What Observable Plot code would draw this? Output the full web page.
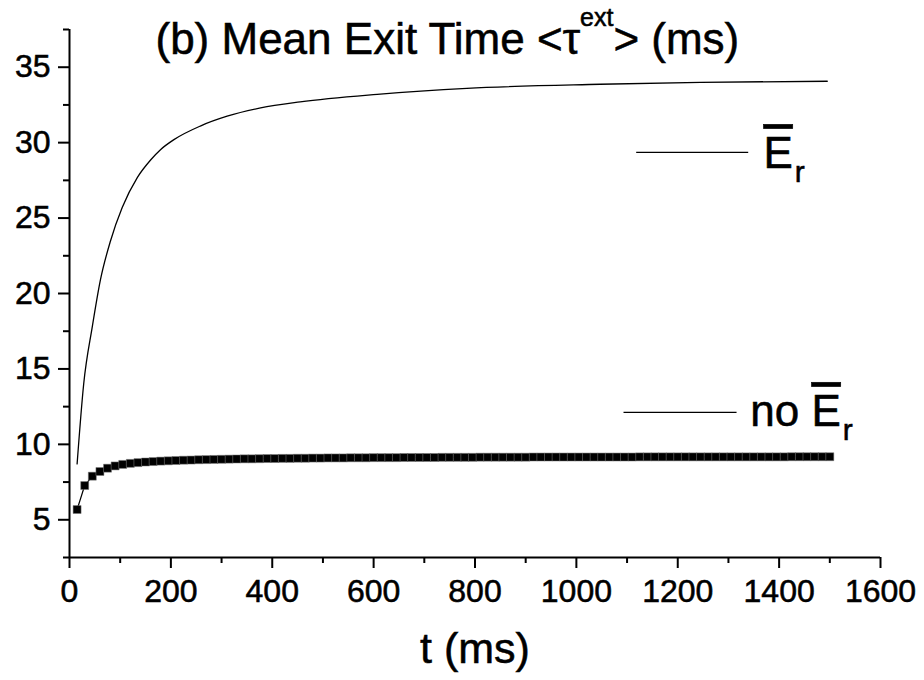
<!DOCTYPE html>
<html><head><meta charset="utf-8">
<script src="https://cdn.jsdelivr.net/npm/d3@7"></script>
<script src="https://cdn.jsdelivr.net/npm/@observablehq/plot@0.6"></script>
<style>
body{margin:0;background:#fff;}
#chart svg{display:block;}
#chart svg text{stroke:#000;stroke-width:0.55px;}
</style>
</head><body><div id="chart"></div>
<script>
// ---- data ----
const erT = [15, 28, 45, 61, 81, 104, 134, 160, 180, 206, 258, 311, 377, 455, 607, 784, 1047, 1245, 1495];
const erV = [8.7, 14.0, 17.8, 20.9, 23.5, 25.7, 27.7, 28.85, 29.55, 30.2, 31.1, 31.75, 32.3, 32.7, 33.2, 33.6, 33.87, 34.0, 34.07];

const noErT = [15,30,45,60,75,90,105,120,135,150,165,180,195,210,225,240,255,270,285,300,
  315,330,345,360,375,390,405,420,435,450,465,480,495,510,525,540,555,570,585,600,
  615,630,645,660,675,690,705,720,735,750,765,780,795,810,825,840,855,870,885,900,
  915,930,945,960,975,990,1005,1020,1035,1050,1065,1080,1095,1110,1125,1140,1155,1170,1185,1200,
  1215,1230,1245,1260,1275,1290,1305,1320,1335,1350,1365,1380,1395,1410,1425,1440,1455,1470,1485,1500];
const noErV = [5.68,7.27,7.89,8.20,8.42,8.57,8.67,8.74,8.79,8.83,8.86,8.89,8.91,8.93,8.95,8.96,8.98,8.99,9.00,9.01,
  9.02,9.03,9.04,9.04,9.05,9.06,9.06,9.07,9.07,9.08,9.08,9.09,9.09,9.10,9.10,9.10,9.11,9.11,9.11,9.12,
  9.12,9.12,9.12,9.13,9.13,9.13,9.13,9.13,9.14,9.14,9.14,9.14,9.14,9.15,9.15,9.15,9.15,9.15,9.15,9.15,
  9.16,9.16,9.16,9.16,9.16,9.16,9.16,9.16,9.16,9.16,9.16,9.16,9.16,9.16,9.17,9.17,9.17,9.17,9.17,9.17,
  9.17,9.17,9.17,9.17,9.17,9.17,9.17,9.17,9.17,9.17,9.17,9.17,9.17,9.17,9.18,9.18,9.18,9.18,9.18,9.18];

const xTicks = [0,200,400,600,800,1000,1200,1400,1600];
const xMinorTicks = [100,300,500,700,900,1100,1300,1500];
const yTicks = [5,10,15,20,25,30,35];
const yMinorTicks = [2.5,7.5,12.5,17.5,22.5,27.5,32.5,37.5];

const titleMain = "(b) Mean Exit Time <τ";
const titleSup = "ext";
const titleEnd = "> (ms)";
const xLabel = "t (ms)";

// legend entries
const legendPrefix = ["", "no "];
const legendSymbol = "E";
const legendSub = "r";
const legendLineX1 = [1118, 1093];
const legendLineX2 = [1339, 1316];
const legendLineY = [29.36, 12.12];
const legendTextX = [1369, 1343];
const legendTextY = [28.3, 11.2];

// ---- build tables ----
const erData = erT.map((t,i)=>({t, v: erV[i]}));
const noErData = noErT.map((t,i)=>({t, v: noErV[i]}));
const legendData = legendPrefix.map((p,i)=>({
  prefix: p, label: p + legendSymbol, x1: legendLineX1[i], x2: legendLineX2[i], y: legendLineY[i],
  tx: legendTextX[i], ty: legendTextY[i]
}));

const FONT = "'Liberation Sans', Arial, Helvetica, sans-serif";

const plot = Plot.plot({
  width: 924,
  height: 680,
  marginLeft: 69,
  marginRight: 44,
  marginTop: 29,
  marginBottom: 123,
  style: {fontFamily: FONT, fontSize: "32px", color: "#000", background: "#fff", overflow: "visible"},
  x: {domain: [0, 1600]},
  y: {domain: [2.5, 37.5]},
  marks: [
    // axes
    Plot.axisX({ticks: xTicks, tickSize: 11, tickPadding: 11, strokeWidth: 2, tickFormat: d => String(d), label: null}),
    Plot.axisX({ticks: xMinorTicks, tickSize: 6, strokeWidth: 2, text: null, label: null}),
    Plot.axisY({ticks: yTicks, tickSize: 11, tickPadding: 8, strokeWidth: 2, tickFormat: d => String(d), label: null}),
    Plot.axisY({ticks: yMinorTicks, tickSize: 6, strokeWidth: 2, text: null, label: null}),
    Plot.ruleX([0], {stroke: "#000", strokeWidth: 2}),
    Plot.ruleY([2.5], {stroke: "#000", strokeWidth: 2}),
    // series
    Plot.line(erData, {x: "t", y: "v", stroke: "#000", strokeWidth: 1.3, curve: "monotone-x"}),
    Plot.line(noErData, {x: "t", y: "v", stroke: "#000", strokeWidth: 1.2}),
    Plot.dot(noErData, {x: "t", y: "v", symbol: "square", r: 4.5, fill: "#000", stroke: "#777", strokeWidth: 0.5}),
    // legend
    Plot.link(legendData, {x1: "x1", x2: "x2", y1: "y", y2: "y", stroke: "#000", strokeWidth: 1.2}),
    Plot.text(legendData, {x: "tx", y: "ty", text: "label", textAnchor: "start", lineAnchor: "bottom", fontSize: 44, fill: "#000"}),
    // title and axis label
    Plot.text([titleMain], {frameAnchor: "top-left", dx: 86, dy: 24, textAnchor: "start", lineAnchor: "bottom", fontSize: 44, fill: "#000"}),
    Plot.text([xLabel], {frameAnchor: "bottom", dy: 105, lineAnchor: "bottom", fontSize: 43, fill: "#000"})
  ]
});

const svg = d3.select(plot);

// superscript in title
svg.selectAll("text").filter(function(){ return this.textContent === titleMain; }).each(function(){
  const t = d3.select(this);
  t.append("tspan").attr("font-size", 25).attr("dy", -28).text(titleSup);
  t.append("tspan").attr("font-size", 44).attr("dy", 28).text(titleEnd);
});
// legend: overbar E with subscript r
svg.selectAll("text").filter(function(){ return legendData.some(d => d.label === this.textContent); }).each(function(){
  const txt = this.textContent;
  const d = legendData.find(e => e.label === txt);
  const t = d3.select(this);
  t.text(d.prefix);
  t.append("tspan")
    .style("text-decoration", "overline")
    .style("text-decoration-thickness", "4px")
    .text(legendSymbol);
  t.append("tspan").attr("font-size", 30).attr("dy", 14).attr("dx", 2).text(legendSub);
});

document.getElementById("chart").appendChild(plot);
</script>
</body></html>
